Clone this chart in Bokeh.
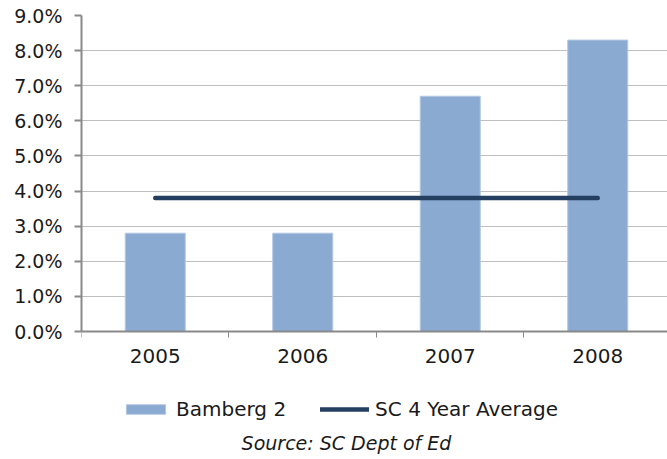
from bokeh.plotting import figure
from bokeh.models import Range1d, FixedTicker, PrintfTickFormatter, Legend, LegendItem, Label
from bokeh.embed import file_html
from bokeh.resources import INLINE

years = ["2005", "2006", "2007", "2008"]
bamberg = [2.8, 2.8, 6.7, 8.3]
sc_avg = [3.8, 3.8, 3.8, 3.8]
y_ticks = [0, 1, 2, 3, 4, 5, 6, 7, 8, 9]
source_text = "Source: SC Dept of Ed"

FONT = "DejaVu Sans"
GRAY = "#898989"
BAR = "#8AAAD2"
LINE = "#243F60"
TXT = "#1a1a1a"

# layout (pixels): value axis spans 316 px, 128 px below it for legend & source
PX_PER_UNIT = 316 / (y_ticks[-1] - y_ticks[0])
y_lo = y_ticks[0] - 128 / PX_PER_UNIT

centers = [i + 0.5 for i in range(len(years))]
bounds = [i for i in range(len(years) + 1)]

p = figure(width=667, height=459,
           output_backend="svg", toolbar_location=None,
           x_range=Range1d(0, 3.973), y_range=Range1d(y_lo, y_ticks[-1]),
           min_border_left=81, min_border_right=0, min_border_top=15, min_border_bottom=0)
p.outline_line_color = None
p.background_fill_color = "white"

bars = p.vbar(x=centers, top=bamberg, width=0.407, fill_color=BAR, line_color="#B4C8E2", line_width=1)
ln = p.line(x=centers, y=sc_avg, line_color=LINE, line_width=4.5, line_cap="round")

# axes
xa = p.xaxis[0]
xa.fixed_location = y_ticks[0]
xa.ticker = FixedTicker(ticks=centers, minor_ticks=bounds)
xa.major_label_overrides = {c: y for c, y in zip(centers, years)}
xa.major_tick_out = 0
xa.major_tick_in = 0
xa.minor_tick_out = 6
xa.minor_tick_in = 0
xa.minor_tick_line_color = GRAY
xa.axis_line_color = GRAY
xa.axis_line_width = 2
xa.major_label_text_font = FONT
xa.major_label_text_font_size = "20px"
xa.major_label_text_color = TXT
xa.major_label_standoff = 11

ya = p.yaxis[0]
ya.bounds = (y_ticks[0], y_ticks[-1])
ya.ticker = FixedTicker(ticks=y_ticks)
ya.formatter = PrintfTickFormatter(format="%.1f%%")
ya.major_tick_out = 7
ya.major_tick_in = 0
ya.minor_tick_line_color = None
ya.major_tick_line_color = GRAY
ya.major_tick_line_width = 2
ya.axis_line_color = GRAY
ya.axis_line_width = 2
ya.major_label_text_font = FONT
ya.major_label_text_font_size = "19px"
ya.major_label_text_color = TXT
ya.major_label_standoff = 12

p.xgrid.grid_line_color = None
p.ygrid.ticker = FixedTicker(ticks=y_ticks[1:])
p.ygrid.grid_line_color = "#7f7f7f"
p.ygrid.grid_line_dash = "1 1"
p.ygrid.grid_line_width = 1

legend = Legend(items=[LegendItem(label="Bamberg 2", renderers=[bars]),
                       LegendItem(label="SC 4 Year Average", renderers=[ln])],
                orientation="horizontal", location=(40, 38),
                label_text_font=FONT, label_text_font_size="20px", label_text_color=TXT,
                glyph_width=49, glyph_height=12, spacing=34, label_standoff=6,
                border_line_color=None, background_fill_alpha=0, padding=0, margin=0)
p.add_layout(legend, "center")

src = Label(x=265, y=17, x_units="screen", y_units="screen", text=source_text,
            text_align="center", text_baseline="alphabetic",
            text_font=FONT, text_font_size="19px", text_font_style="italic",
            text_color=TXT)
p.add_layout(src)

open("out.html", "w").write(file_html(p, INLINE))
